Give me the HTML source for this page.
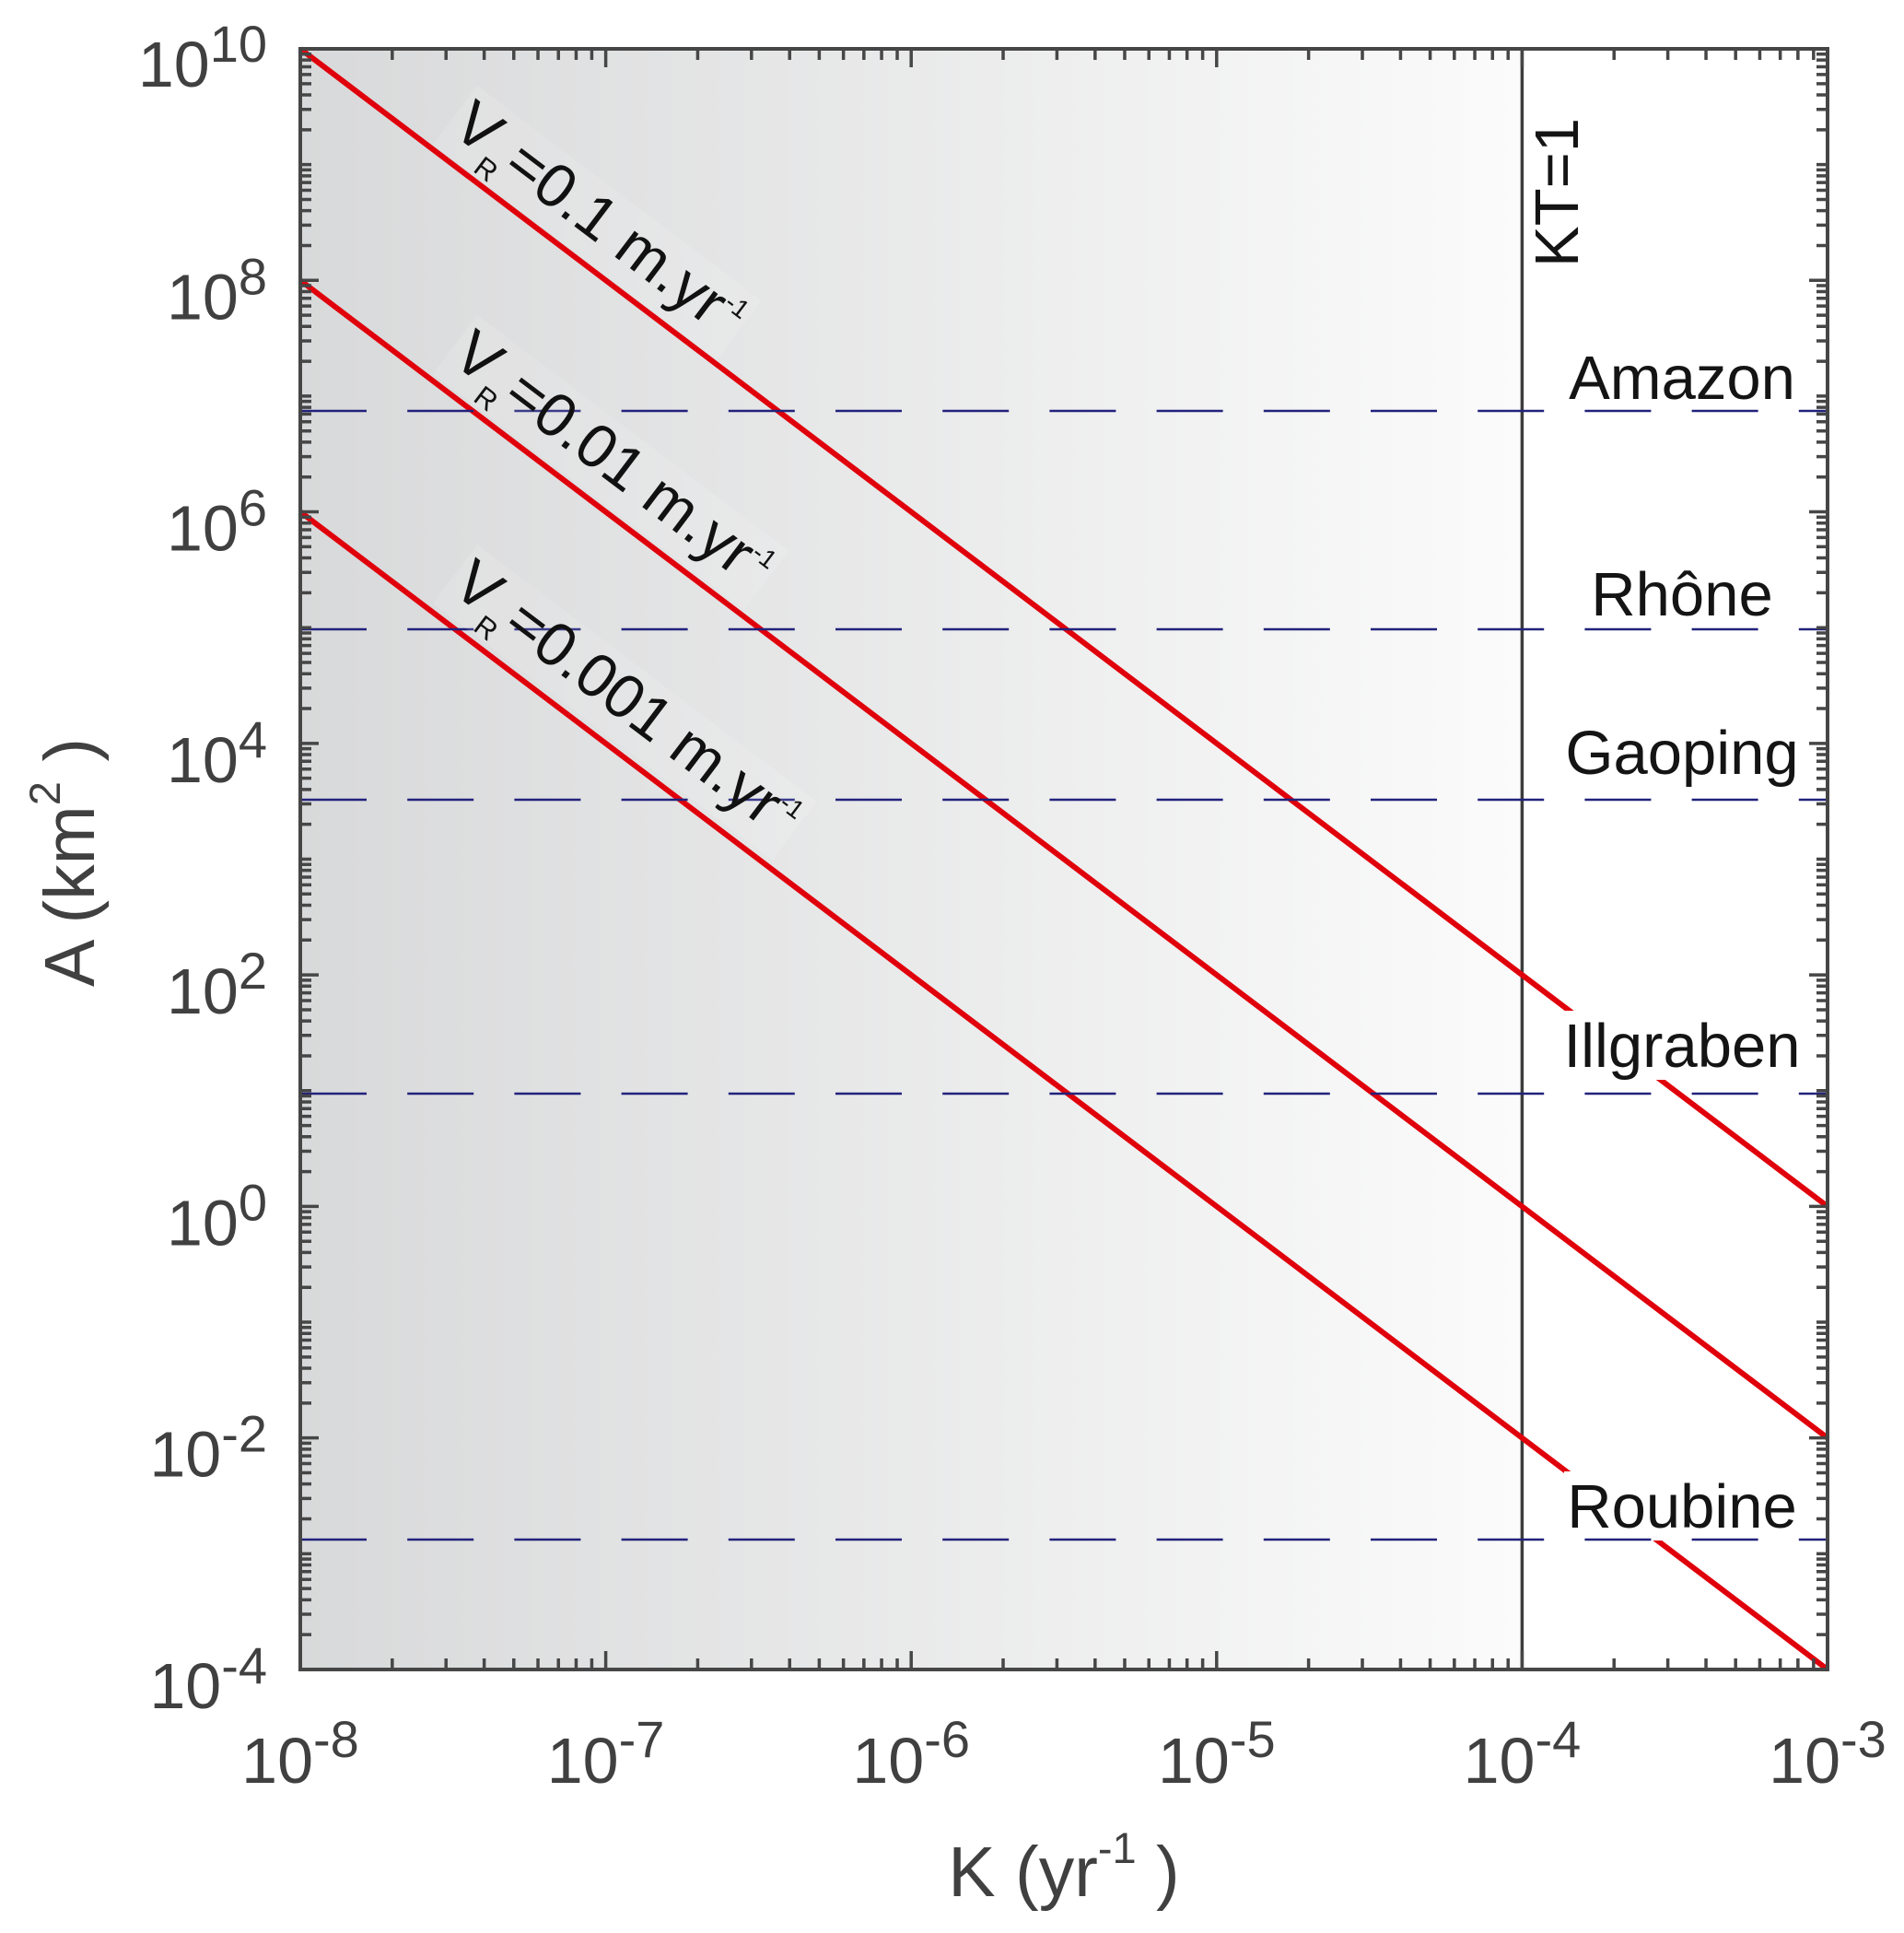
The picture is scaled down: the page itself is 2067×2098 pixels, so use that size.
<!DOCTYPE html>
<html>
<head>
<meta charset="utf-8">
<style>
  html,body{margin:0;padding:0;background:#fff;}
  svg{display:block;}
  text{font-family:"Liberation Sans", Arial, sans-serif;}
</style>
</head>
<body>
<svg width="2067" height="2098" viewBox="0 0 2067 2098" xmlns="http://www.w3.org/2000/svg">
  <defs>
    <linearGradient id="bg" gradientUnits="userSpaceOnUse" x1="326" y1="0" x2="1652" y2="0">
      <stop offset="0" stop-color="#d8d9da"/>
      <stop offset="1" stop-color="#fbfbfb"/>
    </linearGradient>
    <path id="yl" fill="none" stroke="#464646" stroke-width="3.5" d="M0 -37.82h12M0 -59.95h12M0 -75.64h12M0 -87.82h12M0 -97.77h12M0 -106.18h12M0 -113.46h12M0 -119.89h12"/>
    <path id="yr" fill="none" stroke="#464646" stroke-width="3.5" d="M0 -37.82h-12M0 -59.95h-12M0 -75.64h-12M0 -87.82h-12M0 -97.77h-12M0 -106.18h-12M0 -113.46h-12M0 -119.89h-12"/>
    <path id="xb" fill="none" stroke="#464646" stroke-width="3.5" d="M99.82 0v-12M158.21 0v-12M199.64 0v-12M231.78 0v-12M258.04 0v-12M280.24 0v-12M299.46 0v-12M316.43 0v-12"/>
    <path id="xt" fill="none" stroke="#464646" stroke-width="3.5" d="M99.82 0v12M158.21 0v12M199.64 0v12M231.78 0v12M258.04 0v12M280.24 0v12M299.46 0v12M316.43 0v12"/>
  </defs>

  <!-- background -->
  <rect x="0" y="0" width="2067" height="2098" fill="#fff"/>
  <rect x="326" y="53" width="1326" height="1759" fill="url(#bg)"/>

  <!-- KT=1 vertical line -->
  <line x1="1652.4" y1="53" x2="1652.4" y2="1812" stroke="#3c3c3c" stroke-width="3.5"/>

  <!-- red lines -->
  <g stroke="#e0000b" stroke-width="6" fill="none">
    <line x1="326" y1="53" x2="1984" y2="1309.4"/>
    <line x1="326" y1="304.28" x2="1984" y2="1560.68"/>
    <line x1="326" y1="555.56" x2="1984" y2="1811.96"/>
  </g>

  <!-- label background boxes (white) -->
  <g fill="#fff">
    <rect x="1700" y="372" width="252" height="75"/>
    <rect x="1724" y="607" width="204" height="75"/>
    <rect x="1696" y="779" width="260" height="75"/>
    <rect x="1694.5" y="1097" width="263" height="75"/>
    <rect x="1698" y="1597" width="256" height="75"/>
  </g>

  <!-- dashed horizontal lines -->
  <g stroke="#22227c" stroke-width="2.5" stroke-dasharray="72 44.2" fill="none">
    <line x1="326" y1="446" x2="1984" y2="446"/>
    <line x1="326" y1="683" x2="1984" y2="683"/>
    <line x1="326" y1="868" x2="1984" y2="868"/>
    <line x1="326" y1="1187" x2="1984" y2="1187"/>
    <line x1="326" y1="1671" x2="1984" y2="1671"/>
  </g>

  <!-- right labels -->
  <g font-size="67" fill="#141414" text-anchor="middle">
    <text x="1826" y="433">Amazon</text>
    <text x="1826" y="668">Rhône</text>
    <text x="1826" y="840">Gaoping</text>
    <text x="1826" y="1158">Illgraben</text>
    <text x="1826" y="1658">Roubine</text>
  </g>

  <!-- KT=1 -->
  <text transform="translate(1713,290) rotate(-90)" font-size="67" fill="#141414">KT=1</text>

  <!-- V_R labels -->
  <g transform="translate(488,143) rotate(37.1)" fill="#111">
    <rect x="-6" y="-58" width="387" height="80" fill="#fff" opacity="0.12"/>
    <text font-size="67"><tspan x="0" y="0">V</tspan><tspan x="45" y="19" font-size="31">R</tspan><tspan x="69.7" y="0">=0.1 m.yr</tspan><tspan dy="-28" font-size="28">-1</tspan></text>
  </g>
  <g transform="translate(488,392) rotate(37.1)" fill="#111">
    <rect x="-6" y="-58" width="424" height="80" fill="#fff" opacity="0.12"/>
    <text font-size="67"><tspan x="0" y="0">V</tspan><tspan x="45" y="19" font-size="31">R</tspan><tspan x="69.7" y="0">=0.01 m.yr</tspan><tspan dy="-28" font-size="28">-1</tspan></text>
  </g>
  <g transform="translate(488,641) rotate(37.1)" fill="#111">
    <rect x="-6" y="-58" width="462" height="80" fill="#fff" opacity="0.12"/>
    <text font-size="67"><tspan x="0" y="0">V</tspan><tspan x="45" y="19" font-size="31">R</tspan><tspan x="69.7" y="0">=0.001 m.yr</tspan><tspan dy="-28" font-size="28">-1</tspan></text>
  </g>

  <!-- minor ticks Y (left & right) -->
  <g>
    <use href="#yl" x="326" y="1811.96"/><use href="#yl" x="326" y="1686.32"/><use href="#yl" x="326" y="1560.68"/>
    <use href="#yl" x="326" y="1435.04"/><use href="#yl" x="326" y="1309.4"/><use href="#yl" x="326" y="1183.76"/>
    <use href="#yl" x="326" y="1058.12"/><use href="#yl" x="326" y="932.48"/><use href="#yl" x="326" y="806.84"/>
    <use href="#yl" x="326" y="681.2"/><use href="#yl" x="326" y="555.56"/><use href="#yl" x="326" y="429.92"/>
    <use href="#yl" x="326" y="304.28"/><use href="#yl" x="326" y="178.64"/>
    <use href="#yr" x="1984" y="1811.96"/><use href="#yr" x="1984" y="1686.32"/><use href="#yr" x="1984" y="1560.68"/>
    <use href="#yr" x="1984" y="1435.04"/><use href="#yr" x="1984" y="1309.4"/><use href="#yr" x="1984" y="1183.76"/>
    <use href="#yr" x="1984" y="1058.12"/><use href="#yr" x="1984" y="932.48"/><use href="#yr" x="1984" y="806.84"/>
    <use href="#yr" x="1984" y="681.2"/><use href="#yr" x="1984" y="555.56"/><use href="#yr" x="1984" y="429.92"/>
    <use href="#yr" x="1984" y="304.28"/><use href="#yr" x="1984" y="178.64"/>
  </g>
  <!-- minor ticks X -->
  <g>
    <use href="#xb" x="326" y="1812"/><use href="#xb" x="657.6" y="1812"/><use href="#xb" x="989.2" y="1812"/>
    <use href="#xb" x="1320.8" y="1812"/><use href="#xb" x="1652.4" y="1812"/>
    <use href="#xt" x="326" y="53"/><use href="#xt" x="657.6" y="53"/><use href="#xt" x="989.2" y="53"/>
    <use href="#xt" x="1320.8" y="53"/><use href="#xt" x="1652.4" y="53"/>
  </g>
  <!-- odd decade (minor-length) and major ticks -->
  <path fill="none" stroke="#464646" stroke-width="3.5" d="
    M326 178.64h12M326 429.92h12M326 681.2h12M326 932.48h12M326 1183.76h12M326 1435.04h12M326 1686.32h12
    M1984 178.64h-12M1984 429.92h-12M1984 681.2h-12M1984 932.48h-12M1984 1183.76h-12M1984 1435.04h-12M1984 1686.32h-12
    M326 304.28h20M326 555.56h20M326 806.84h20M326 1058.12h20M326 1309.4h20M326 1560.68h20
    M1984 304.28h-20M1984 555.56h-20M1984 806.84h-20M1984 1058.12h-20M1984 1309.4h-20M1984 1560.68h-20
    M657.6 1812v-20M989.2 1812v-20M1320.8 1812v-20M1652.4 1812v-20
    M657.6 53v20M989.2 53v20M1320.8 53v20M1652.4 53v20"/>

  <!-- axes box -->
  <rect x="326" y="53" width="1658" height="1759" fill="none" stroke="#464646" stroke-width="4"/>

  <!-- Y tick labels -->
  <g font-size="70" fill="#404040" text-anchor="end">
    <text x="290" y="94">10<tspan dy="-27" font-size="56">10</tspan></text>
    <text x="290" y="346.3">10<tspan dy="-27" font-size="56">8</tspan></text>
    <text x="290" y="597.6">10<tspan dy="-27" font-size="56">6</tspan></text>
    <text x="290" y="848.8">10<tspan dy="-27" font-size="56">4</tspan></text>
    <text x="290" y="1100.1">10<tspan dy="-27" font-size="56">2</tspan></text>
    <text x="290" y="1351.4">10<tspan dy="-27" font-size="56">0</tspan></text>
    <text x="290" y="1602.7">10<tspan dy="-27" font-size="56">-2</tspan></text>
    <text x="290" y="1854">10<tspan dy="-27" font-size="56">-4</tspan></text>
  </g>

  <!-- X tick labels -->
  <g font-size="70" fill="#404040" text-anchor="middle">
    <text x="326" y="1935">10<tspan dy="-28" font-size="56">-8</tspan></text>
    <text x="657.6" y="1935">10<tspan dy="-28" font-size="56">-7</tspan></text>
    <text x="989.2" y="1935">10<tspan dy="-28" font-size="56">-6</tspan></text>
    <text x="1320.8" y="1935">10<tspan dy="-28" font-size="56">-5</tspan></text>
    <text x="1652.4" y="1935">10<tspan dy="-28" font-size="56">-4</tspan></text>
    <text x="1984" y="1935">10<tspan dy="-28" font-size="56">-3</tspan></text>
  </g>

  <!-- axis labels -->
  <text x="1155" y="2058" font-size="77" fill="#404040" text-anchor="middle">K (yr<tspan dy="-36" font-size="47">-1</tspan><tspan dy="36"> )</tspan></text>
  <text transform="translate(102,936) rotate(-90)" font-size="77" fill="#404040" text-anchor="middle">A (km<tspan dy="-37" font-size="47">2</tspan><tspan dy="37"> )</tspan></text>
</svg>
</body>
</html>
